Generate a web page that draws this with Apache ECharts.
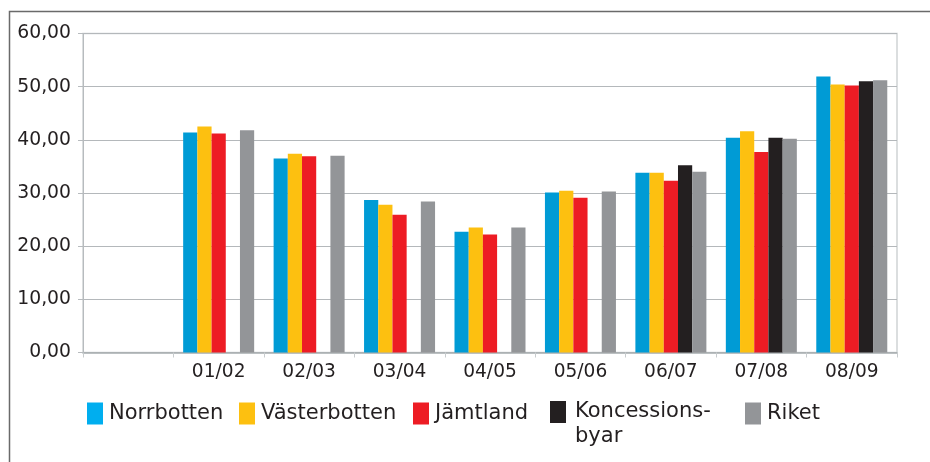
<!DOCTYPE html>
<html>
<head>
<meta charset="utf-8">
<script src="https://cdn.jsdelivr.net/npm/echarts@6/dist/echarts.min.js"></script>
<style>
html,body{margin:0;padding:0;background:#fff;}
#c{width:930px;height:462px;}
</style>
</head>
<body>
<div id="c"></div>
<script>
var categories = ['', '01/02', '02/03', '03/04', '04/05', '05/06', '06/07', '07/08', '08/09'];
var norrbotten = [null, 41.4, 36.5, 28.7, 22.7, 30.1, 33.8, 40.4, 51.9];
var vasterbotten = [null, 42.5, 37.4, 27.8, 23.5, 30.4, 33.8, 41.6, 50.4];
var jamtland = [null, 41.2, 36.9, 25.9, 22.2, 29.1, 32.3, 37.7, 50.2];
var koncessionsbyar = [null, null, null, null, null, null, 35.2, 40.4, 51.0];
var riket = [null, 41.8, 37.0, 28.4, 23.5, 30.3, 34.0, 40.2, 51.2];
var yTicks = [0, 10, 20, 30, 40, 50, 60];

var FONT = 'Verdana, "DejaVu Sans", sans-serif';
var TXT = '#231f20';

var seriesDefs = [
  {name: 'Norrbotten', data: norrbotten, color: '#009bd5', legendColor: '#00aeef', left: 87},
  {name: 'Västerbotten', data: vasterbotten, color: '#fdc010', legendColor: '#fdc010', left: 239},
  {name: 'Jämtland', data: jamtland, color: '#ed1c24', legendColor: '#ed1c24', left: 413},
  {name: 'Koncessionsbyar', data: koncessionsbyar, color: '#231f20', legendColor: '#231f20', left: 550, label: ' \nKoncessions-\nbyar'},
  {name: 'Riket', data: riket, color: '#939598', legendColor: '#939598', left: 745}
];

var chart = echarts.init(document.getElementById('c'), null, {renderer: 'canvas'});

var legends = seriesDefs.map(function (s) {
  var multi = !!s.label;
  return {
    left: s.left,
    top: multi ? 374.5 : 401,
    padding: 0,
    itemWidth: 16,
    itemHeight: 22,
    itemGap: 6,
    selectedMode: false,
    icon: 'rect',
    formatter: multi ? function () { return s.label; } : '{name}',
    textStyle: {
      fontFamily: FONT,
      fontSize: 21,
      color: TXT,
      lineHeight: 25,
      padding: multi ? [0, 0, 0, 4] : [0, 0, 0, 1]
    },
    data: [{name: s.name, itemStyle: {color: s.legendColor}}]
  };
});

var option = {
  animation: false,
  backgroundColor: '#ffffff',
  graphic: [{
    type: 'rect',
    left: 7,
    top: 9,
    shape: {x: 0, y: 0, width: 960, height: 500},
    style: {fill: 'none', stroke: '#6a6a6a', lineWidth: 1.5},
    silent: true
  }],
  grid: {
    left: 83,
    right: 33,
    top: 33.5,
    bottom: 109.5,
    show: true,
    borderColor: '#cfd3d5',
    borderWidth: 1.5,
    backgroundColor: 'transparent'
  },
  legend: legends,
  xAxis: {
    type: 'category',
    data: categories,
    boundaryGap: true,
    axisLine: {show: true, lineStyle: {color: '#a9aeb1', width: 1.5}},
    axisTick: {show: true, length: 5, interval: 0, lineStyle: {color: '#c8ccce', width: 1}},
    axisLabel: {
      interval: 0,
      margin: 10,
      fontFamily: FONT,
      fontSize: 18.6,
      color: TXT
    },
    splitLine: {show: false}
  },
  yAxis: {
    type: 'value',
    min: yTicks[0],
    max: yTicks[yTicks.length - 1],
    interval: 10,
    axisLine: {show: true, lineStyle: {color: '#b7bbbe', width: 1}},
    axisTick: {show: true, length: 5, lineStyle: {color: '#b7bbbe'}},
    axisLabel: {
      margin: 12,
      fontFamily: FONT,
      fontSize: 18.8,
      color: TXT,
      formatter: function (v) { return v.toFixed(2).replace('.', ','); }
    },
    splitLine: {show: true, lineStyle: {color: '#b4b8bb', width: 1.2}}
  },
  series: seriesDefs.map(function (s) {
    return {
      name: s.name,
      type: 'bar',
      data: s.data,
      barGap: '0%',
      barCategoryGap: '21.5%',
      itemStyle: {color: s.color},
      emphasis: {disabled: true}
    };
  })
};

chart.setOption(option);
</script>
</body>
</html>
